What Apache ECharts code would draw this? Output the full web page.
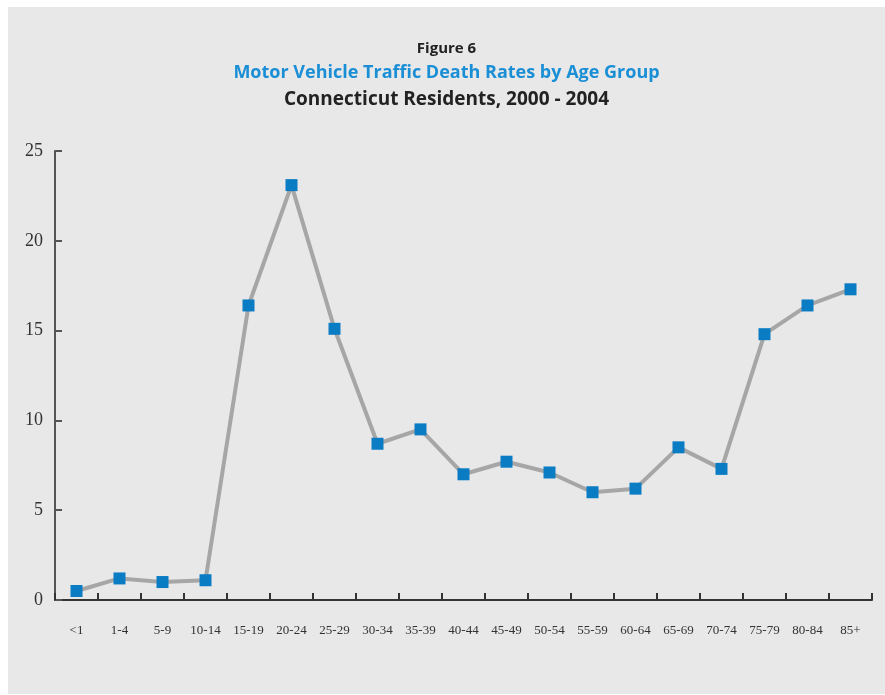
<!DOCTYPE html>
<html>
<head>
<meta charset="utf-8">
<script src="https://cdn.jsdelivr.net/npm/echarts@6/dist/echarts.min.js"></script>
<style>
  html, body { margin: 0; padding: 0; background: #ffffff; }
  #main { position: absolute; left: 8px; top: 7px; width: 877px; height: 687px; background: #e8e8e8; }
</style>
</head>
<body>
<div id="main"></div>
<script>
const ageGroups = ['<1', '1-4', '5-9', '10-14', '15-19', '20-24', '25-29', '30-34', '35-39', '40-44',
  '45-49', '50-54', '55-59', '60-64', '65-69', '70-74', '75-79', '80-84', '85+'];
const deathRates = [0.5, 1.2, 1.0, 1.1, 16.4, 23.1, 15.1, 8.7, 9.5, 7.0,
  7.7, 7.1, 6.0, 6.2, 8.5, 7.3, 14.8, 16.4, 17.3];
const yTicks = [0, 25, 5]; // min, max, step

const chart = echarts.init(document.getElementById('main'));

const option = {
  backgroundColor: '#e8e8e8',
  animation: false,
  title: [
    {
      text: 'Figure 6', left: 'center', top: 29,
      textStyle: { fontFamily: 'Open Sans', fontWeight: 'bold', fontSize: 15, color: '#222' }
    },
    {
      text: 'Motor Vehicle Traffic Death Rates by Age Group', left: 'center', top: 52,
      textStyle: { fontFamily: 'Open Sans', fontWeight: 'bold', fontSize: 18, color: '#1b8fd6' }
    },
    {
      text: 'Connecticut Residents, 2000 - 2004', left: 'center', top: 78,
      textStyle: { fontFamily: 'Open Sans', fontWeight: 'bold', fontSize: 19, color: '#222' }
    }
  ],
  grid: { left: 47, right: 13, top: 144, bottom: 94 },
  xAxis: {
    type: 'category',
    data: ageGroups,
    boundaryGap: true,
    axisLine: { show: true, lineStyle: { color: '#333', width: 2 } },
    axisTick: { show: true, inside: true, length: 7, lineStyle: { color: '#333', width: 2 } },
    axisLabel: { margin: 24, fontFamily: 'Liberation Serif', fontSize: 13, color: '#333', interval: 0 }
  },
  yAxis: {
    type: 'value',
    min: yTicks[0], max: yTicks[1], interval: yTicks[2],
    splitLine: { show: false },
    axisLine: { show: true, lineStyle: { color: '#555', width: 2 } },
    axisTick: { show: true, inside: true, length: 7, lineStyle: { color: '#555', width: 2 } },
    axisLabel: { margin: 12, fontFamily: 'Liberation Serif', fontSize: 18, color: '#333' }
  },
  series: [
    {
      type: 'line',
      data: deathRates,
      symbol: 'rect',
      symbolSize: 12,
      lineStyle: { color: '#a6a6a6', width: 4 },
      itemStyle: { color: '#0a7cc4' }
    }
  ]
};

chart.setOption(option);
</script>
</body>
</html>
